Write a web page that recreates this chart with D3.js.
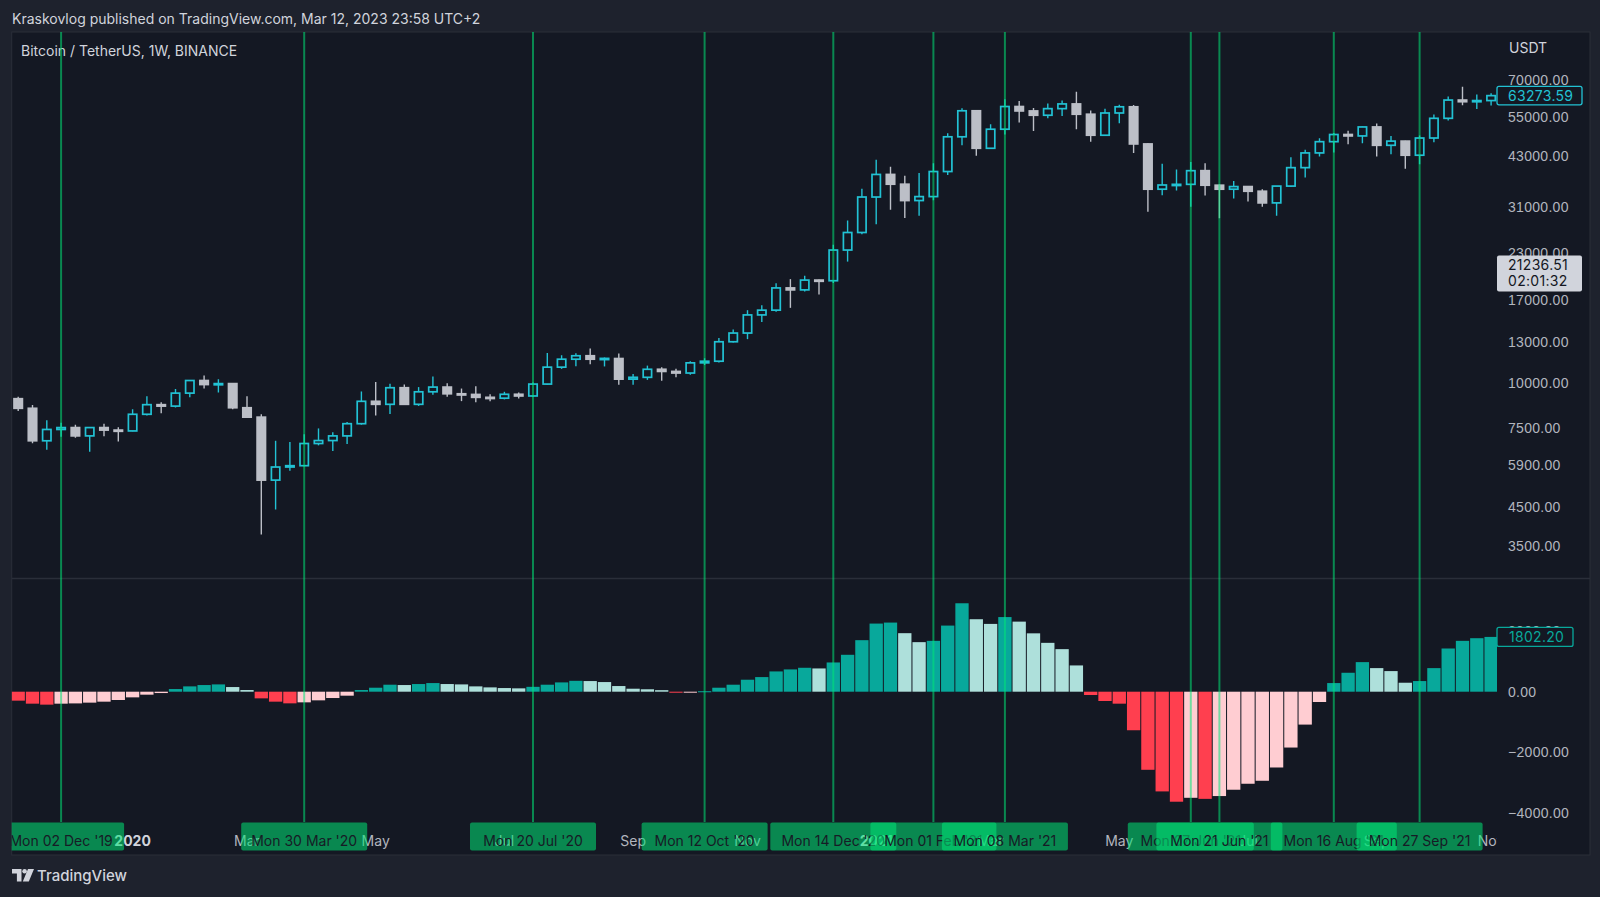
<!DOCTYPE html>
<html><head><meta charset="utf-8">
<script src="https://cdn.jsdelivr.net/npm/d3@7"></script>
<style>
html,body{margin:0;padding:0;background:#1e222d;overflow:hidden;}
svg{display:block;font-family:Inter,Roboto,"Noto Sans",sans-serif;}
</style></head><body>
<svg id="chart" width="1600" height="897"></svg>
<script>
// ---------------- DATA ----------------
const firstWeek = "2019-11-11";
const lastWeek = "2021-11-01";
const opens = [9040,8500,6900,7420,7510,7120,7510,7390,7350,8180,8700,8620,9370,10160,9900,9960,8530,8030,5360,5830,5880,6780,6910,7120,7700,8890,8720,9700,8720,9450,9740,9330,9290,9120,9070,9300,9200,9930,11070,11650,11910,11650,11700,10250,10370,10920,10770,10660,11380,11500,13030,13780,15480,15960,18410,18180,19360,19280,23480,26280,33000,38150,35830,32260,33090,38870,48580,57410,45130,51000,59000,57350,55790,58200,59990,56150,49070,56600,58900,46400,34700,35650,35800,39080,35600,34700,35290,34250,31780,35400,39850,43800,47080,49300,48850,51750,46000,47250,43160,48200,54700,61500,60850,61300];
const highs = [9150,8680,7870,7750,7650,7520,7700,7530,8450,9190,8830,9620,10190,10500,10250,9990,9190,8180,6900,6850,7200,7470,7290,7780,9470,10070,9950,9900,9740,10430,9990,9650,9800,9300,9450,9400,10030,12120,11950,12100,12480,11780,12090,10590,11180,11060,10950,11490,11720,13350,14100,15960,16480,18960,19480,19920,19420,24300,28400,34780,41950,40100,37850,38530,41000,49700,58350,57530,52640,61800,61180,58400,60200,61300,64850,57540,58200,59700,59600,46600,40840,39400,41330,41000,35750,36600,35400,34700,35430,42600,44700,48140,49800,50500,51900,52900,48850,47350,49000,56100,62900,67000,63700,64270];
const lows = [8360,6790,6515,7080,7030,6435,7100,6870,7330,8110,8240,8540,9120,9650,9400,8450,7990,3782,4440,5690,5860,6700,6460,6760,7650,8120,8200,8700,8630,9270,9150,8900,8830,8890,9000,9050,9140,9900,10950,11130,11280,11120,9880,9880,10200,10140,10380,10540,11220,11410,12960,13250,14800,15800,16200,18000,17650,19000,21800,26000,27700,30420,28850,29240,32300,37990,46000,43000,44950,49300,53270,50430,54720,55500,51000,47050,48800,53000,43800,30000,33400,34400,31000,33340,28800,32700,32070,31000,29280,35200,37400,42800,43950,46300,46600,42800,43400,39600,40750,46900,53900,59500,58100,59400];
const closes = [8500,6900,7420,7510,7120,7510,7390,7350,8180,8700,8620,9370,10160,9900,9960,8530,8030,5360,5830,5880,6780,6910,7120,7700,8890,8720,9700,8720,9450,9740,9330,9290,9120,9070,9300,9200,9930,11070,11650,11910,11650,11710,10250,10370,10920,10770,10660,11380,11500,13030,13780,15480,15960,18410,18180,19360,19280,23480,26280,33000,38150,35830,32260,33090,38870,48580,57410,45130,51000,59000,57350,55790,58200,59990,56150,49070,56600,58900,46400,34700,35650,35800,39080,35600,34700,35290,34250,31780,35400,39850,43800,47080,49300,48850,51750,46000,47250,43160,48200,54700,61500,60850,61300,63273.59];
const histValues = [-295,-394,-426,-394,-385,-360,-328,-273,-186,-98,-44,87,175,219,240,153,55,-219,-328,-383,-350,-284,-208,-131,55,131,230,219,252,284,252,240,175,142,120,110,160,230,306,358,350,317,186,98,80,50,-33,-20,15,131,230,394,481,667,733,787,765,962,1214,1695,2241,2274,1925,1630,1673,2175,2909,2384,2230,2455,2305,1920,1607,1400,864,-109,-306,-394,-1268,-2569,-3280,-3619,-3490,-3525,-3433,-3225,-3028,-2930,-2493,-1837,-1082,-339,284,623,973,776,678,295,350,776,1421,1673,1760,1802.2];
const eventDates = ["2019-12-02","2020-03-30","2020-07-20","2020-10-12","2020-12-14","2021-02-01","2021-03-08","2021-06-07","2021-06-21","2021-08-16","2021-09-27"];
const eventLabels = ["Mon 02 Dec '19","Mon 30 Mar '20","Mon 20 Jul '20","Mon 12 Oct '20","Mon 14 Dec '20","Mon 01 Feb '21","Mon 08 Mar '21","Mon 07 Jun '21","Mon 21 Jun '21","Mon 16 Aug '21","Mon 27 Sep '21"];
const monthTickDates = ["2020-01-06","2020-03-02","2020-05-04","2020-07-06","2020-09-07","2020-11-02","2021-01-04","2021-03-01","2021-05-03","2021-07-05","2021-09-06","2021-11-01"];
const monthTickLabels = ["2020","Mar","May","Jul","Sep","Nov","2021","Mar","May","Jul","Sep","Nov"];
const priceTicks = [70000,55000,43000,31000,23000,17000,13000,10000,7500,5900,4500,3500];
const histTicks = [2000,0,-2000,-4000];
const lastPrice = 63273.59;
const lastHist = 1802.2;
const livePrice = "21236.51";
const liveTimer = "02:01:32";
const headerText = "Kraskovlog published on TradingView.com, Mar 12, 2023 23:58 UTC+2";
const titleText = "Bitcoin / TetherUS, 1W, BINANCE";
const currencyText = "USDT";

// ---------------- STYLE ----------------
const C = {
  outer:"#1e222d", pane:"#141823", border:"#2a2e39",
  up:"#22c2d4", down:"#bcbfc7",
  growAbove:"#08a89b", fallAbove:"#aee0db", growBelow:"#ffcdd2", fallBelow:"#ff3f4f",
  event:"rgba(0,230,118,0.55)", text:"#d1d4dc", axisText:"#b2b5be"
};
const L = {left:11.7, right:1497, top:32, sep:578.5, bottom2:822, bottom:855, frameRight:1590, axisX:1508};
const numFont = {size:14, spacing:0.3};

const parse = d3.utcParse("%Y-%m-%d");
const weeks = d3.utcMonday.range(parse(firstWeek), d3.utcDay.offset(parse(lastWeek),1));
const candles = weeks.map((d,i)=>({date:d,o:opens[i],h:highs[i],l:lows[i],c:closes[i],hist:histValues[i]}));

const x = d3.scaleUtc().domain([weeks[0], weeks[weeks.length-1]]).range([18.2, 1491.1]);
const y = d3.scaleLog().domain([3500,70000]).range([546.5,79.9]);
const yh = d3.scaleLinear().domain([-4000,0]).range([813.3,691.7]);

const svg = d3.select("#chart");
svg.append("rect").attr("width",1600).attr("height",897).attr("fill",C.outer);
svg.append("rect").attr("x",L.left).attr("y",L.top).attr("width",L.frameRight-L.left).attr("height",L.bottom-L.top)
  .attr("fill",C.pane).attr("stroke",C.border).attr("stroke-width",1);
svg.append("line").attr("x1",L.left).attr("x2",L.frameRight).attr("y1",L.sep).attr("y2",L.sep).attr("stroke",C.border).attr("stroke-width",1.5);

const defs = svg.append("defs");
defs.append("clipPath").attr("id","clipTop").append("rect").attr("x",L.left).attr("y",L.top).attr("width",L.right-L.left).attr("height",L.sep-L.top);
defs.append("clipPath").attr("id","clipBot").append("rect").attr("x",L.left).attr("y",L.sep+1).attr("width",L.right-L.left).attr("height",L.bottom2-L.sep-1);
defs.append("clipPath").attr("id","clipAxis").append("rect").attr("x",L.left).attr("y",L.bottom2).attr("width",L.right-L.left).attr("height",L.bottom-L.bottom2);

// header
svg.append("text").attr("x",12).attr("y",18.5).attr("dominant-baseline","central").attr("fill",C.text)
  .attr("font-size",14).text(headerText);

// ---------------- CANDLES ----------------
const gC = svg.append("g").attr("clip-path","url(#clipTop)");
const bw = 10;
const cg = gC.selectAll("g.c").data(candles).join("g").attr("class","c");
cg.append("line").attr("x1",d=>x(d.date)).attr("x2",d=>x(d.date)).attr("y1",d=>y(d.h)).attr("y2",d=>y(d.l))
  .attr("stroke",d=>d.c>=d.o?C.up:C.down).attr("stroke-width",1.4);
cg.append("rect").attr("x",d=>x(d.date)-bw/2+0.8).attr("width",bw-1.6)
  .attr("y",d=>y(Math.max(d.o,d.c))).attr("height",d=>Math.max(1.2,y(Math.min(d.o,d.c))-y(Math.max(d.o,d.c))))
  .attr("fill",d=>d.c>=d.o?C.pane:C.down).attr("stroke",d=>d.c>=d.o?C.up:C.down).attr("stroke-width",1.7);

svg.append("text").attr("x",21).attr("y",50).attr("dominant-baseline","central").attr("fill",C.text)
  .attr("font-size",14).text(titleText);

// ---------------- HISTOGRAM ----------------
const gH = svg.append("g").attr("clip-path","url(#clipBot)");
const hw = 13.3;
function histColor(d,i){
  const prev = i>0 ? histValues[i-1] : 0;
  if(d.hist>=0) return d.hist>=prev ? C.growAbove : C.fallAbove;
  return d.hist>prev ? C.growBelow : C.fallBelow;
}
gH.selectAll("rect").data(candles).join("rect")
  .attr("x",d=>x(d.date)-hw/2).attr("width",hw)
  .attr("y",d=>Math.min(yh(d.hist),yh(0))).attr("height",d=>Math.max(1,Math.abs(yh(d.hist)-yh(0))))
  .attr("fill",histColor);

// ---------------- EVENT LINES ----------------
const events = eventDates.map((s,i)=>({date:parse(s),label:eventLabels[i]}));
svg.append("g").selectAll("line").data(events).join("line")
  .attr("x1",d=>x(d.date)).attr("x2",d=>x(d.date)).attr("y1",L.top).attr("y2",L.bottom2)
  .attr("stroke",C.event).attr("stroke-width",2);

// ---------------- PRICE AXIS ----------------
function styleNums(g){
  g.select(".domain").remove();
  g.selectAll("text").attr("fill",C.axisText).attr("font-size",numFont.size).attr("letter-spacing",numFont.spacing);
}
svg.append("g").attr("transform",`translate(${L.axisX},0)`)
  .call(d3.axisRight(y).tickValues(priceTicks).tickFormat(d3.format(".2f")).tickSize(0).tickPadding(0)).call(styleNums);
svg.append("g").attr("transform",`translate(${L.axisX},0)`)
  .call(d3.axisRight(yh).tickValues(histTicks).tickFormat(d3.format(".2f")).tickSize(0).tickPadding(0)).call(styleNums);

svg.append("text").attr("x",L.axisX+1).attr("y",47).attr("dominant-baseline","central").attr("fill",C.text)
  .attr("font-size",14).text(currencyText);

// last price box
const lpY = y(lastPrice);
svg.append("rect").attr("x",L.right).attr("y",lpY-9.2).attr("width",85).attr("height",18.4).attr("rx",2)
  .attr("fill",C.pane).attr("stroke",C.up).attr("stroke-width",1.3);
svg.append("text").attr("x",L.axisX).attr("y",lpY).attr("dy","0.35em").attr("fill",C.up).attr("font-size",numFont.size)
  .attr("letter-spacing",numFont.spacing).text(d3.format(".2f")(lastPrice));

// live price box
svg.append("rect").attr("x",L.right).attr("y",255.5).attr("width",85).attr("height",36).attr("rx",2).attr("fill","#d1d4dc");
svg.append("text").attr("x",L.axisX).attr("y",265.5).attr("dy","0.35em").attr("fill","#131722").attr("font-size",numFont.size).attr("letter-spacing",numFont.spacing).text(livePrice);
svg.append("text").attr("x",L.axisX).attr("y",281.5).attr("dy","0.35em").attr("fill","#131722").attr("font-size",numFont.size).attr("letter-spacing",numFont.spacing).text(liveTimer);

// last hist box
const lhY = yh(lastHist);
svg.append("rect").attr("x",L.right).attr("y",lhY-9.5).attr("width",76).attr("height",19).attr("rx",2)
  .attr("fill",C.pane).attr("stroke",C.growAbove).attr("stroke-width",1.3);
svg.append("text").attr("x",L.axisX+1).attr("y",lhY).attr("dy","0.35em").attr("fill",C.growAbove).attr("font-size",numFont.size)
  .attr("letter-spacing",numFont.spacing).text(d3.format(".2f")(lastHist));

// ---------------- TIME AXIS ----------------
const gT = svg.append("g").attr("clip-path","url(#clipAxis)");
gT.selectAll("text.m").data(monthTickDates.map((s,i)=>({date:parse(s),label:monthTickLabels[i]}))).join("text")
  .attr("class","m").attr("x",d=>x(d.date)).attr("y",840).attr("dominant-baseline","central").attr("text-anchor","middle")
  .attr("font-size",14).attr("fill",d=>/^\d{4}$/.test(d.label)?C.text:C.axisText)
  .attr("font-weight",d=>/^\d{4}$/.test(d.label)?700:400).text(d=>d.label);
events.forEach(e=>{
  const cx = x(e.date);
  gT.append("rect").attr("x",cx-63).attr("y",822.5).attr("width",126).attr("height",28).attr("rx",2).attr("fill",C.event);
  gT.append("text").attr("x",cx).attr("y",840).attr("dominant-baseline","central").attr("text-anchor","middle")
    .attr("font-size",14).attr("fill","#171b26").text(e.label);
});

// ---------------- FOOTER LOGO ----------------
const lg = svg.append("g").attr("fill","#d1d4dc");
lg.append("path").attr("d","M12,869 h9.5 v12.5 h-4.6 v-8 h-4.9 z");
lg.append("circle").attr("cx",24.6).attr("cy",871.3).attr("r",2.3);
lg.append("path").attr("d","M28,869 h6 l-5.2,12.5 h-6 z");
svg.append("text").attr("x",37).attr("y",875.5).attr("dominant-baseline","central").attr("fill","#d1d4dc")
  .attr("font-size",15).attr("font-weight",500).text("TradingView");
</script>
</body></html>
